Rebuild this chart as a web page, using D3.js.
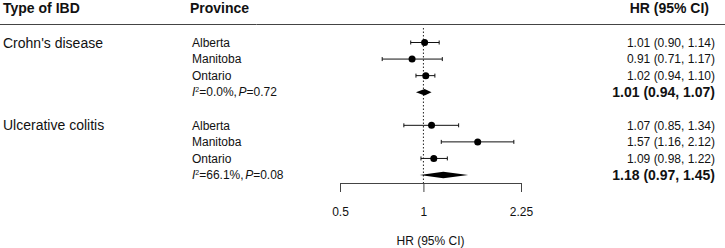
<!DOCTYPE html>
<html>
<head>
<meta charset="utf-8">
<script src="https://cdn.jsdelivr.net/npm/d3@7"></script>
<style>
  body { margin: 0; background: #fff; }
  text { font-family: "Liberation Sans", Arial, sans-serif; fill: #111; }
</style>
</head>
<body>
<script>
// Data
const ibdTypes = ["Crohn's disease", "Ulcerative colitis"];
const provinces = ["Alberta", "Manitoba", "Ontario"];

const cdHR = [1.01, 0.91, 1.02];
const cdLow = [0.90, 0.71, 0.94];
const cdHigh = [1.14, 1.17, 1.10];

const ucHR = [1.07, 1.57, 1.09];
const ucLow = [0.85, 1.16, 0.98];
const ucHigh = [1.34, 2.12, 1.22];

const pooledHR = [1.01, 1.18];
const pooledLow = [0.94, 0.97];
const pooledHigh = [1.07, 1.45];

const hetI2 = ["0.0%", "66.1%"];
const hetP = ["0.72", "0.08"];

const xTicks = [0.5, 1, 2.25];

let width = 725;
let height = 248;

// build rows: 4 rows per group, one blank row between groups
let studies = [];
let pooled = [];
[[cdHR, cdLow, cdHigh], [ucHR, ucLow, ucHigh]].forEach(([h, lo, hi], g) => {
  provinces.forEach((p, i) => {
    studies.push({ row: g * 5 + i, province: p, hr: h[i], lo: lo[i], hi: hi[i] });
  });
  pooled.push({ row: g * 5 + 3, hr: pooledHR[g], lo: pooledLow[g], hi: pooledHigh[g], i2: hetI2[g], p: hetP[g] });
});

const fmt = d3.format(".2f");

let x = d3.scaleLog()
    .domain([0.5, 2.25])
    .range([340, 521]);

let y = d3.scaleLinear()
    .domain([0, 8])
    .range([42.5, 175]);

let svg = d3.select("body").append("svg")
    .attr("width", width)
    .attr("height", height)
    .attr("viewBox", [0, 0, width, height]);

// header
let header = svg.append("g").attr("font-weight", "bold").attr("font-size", 14);
header.append("text").attr("x", 3).attr("y", 13).text("Type of IBD");
header.append("text").attr("x", 190).attr("y", 13).text("Province");
header.append("text").attr("x", 709).attr("y", 13).attr("text-anchor", "end").text("HR (95% CI)");

svg.append("line")
    .attr("x1", 0).attr("x2", width)
    .attr("y1", 24.5).attr("y2", 24.5)
    .attr("stroke", "#444");

// type labels
svg.append("g")
    .selectAll("text")
    .data(ibdTypes)
    .join("text")
    .attr("x", 3)
    .attr("y", (d, i) => y(i * 5) + 5)
    .attr("font-size", 14)
    .text(d => d);

// province labels
svg.append("g")
    .selectAll("text")
    .data(studies)
    .join("text")
    .attr("x", 192)
    .attr("y", d => y(d.row) + 4.3)
    .attr("font-size", 12)
    .text(d => d.province);

// heterogeneity labels
let het = svg.append("g")
    .selectAll("text")
    .data(pooled)
    .join("text")
    .attr("x", 192)
    .attr("y", d => y(d.row) + 4.3)
    .attr("font-size", 12);
het.append("tspan").attr("font-style", "italic").text("I");
het.append("tspan").attr("font-size", 7).attr("dy", -4.5).text("2");
het.append("tspan").attr("dy", 4.5).text(d => "=" + d.i2 + ",");
het.append("tspan").attr("font-style", "italic").attr("dx", 1.5).text("P");
het.append("tspan").text(d => "=" + d.p);

// reference line at HR = 1
svg.append("line")
    .attr("x1", x(1)).attr("x2", x(1))
    .attr("y1", 28).attr("y2", 183)
    .attr("stroke", "#222")
    .attr("stroke-dasharray", "1.5,2");

// confidence intervals
let ci = svg.append("g").attr("stroke", "#111").attr("stroke-width", 1);
ci.selectAll(".ci")
    .data(studies)
    .join("line")
    .attr("class", "ci")
    .attr("x1", d => x(d.lo)).attr("x2", d => x(d.hi))
    .attr("y1", d => y(d.row)).attr("y2", d => y(d.row));
ci.selectAll(".capL")
    .data(studies)
    .join("line")
    .attr("class", "capL")
    .attr("x1", d => x(d.lo)).attr("x2", d => x(d.lo))
    .attr("y1", d => y(d.row) - 2).attr("y2", d => y(d.row) + 2);
ci.selectAll(".capR")
    .data(studies)
    .join("line")
    .attr("class", "capR")
    .attr("x1", d => x(d.hi)).attr("x2", d => x(d.hi))
    .attr("y1", d => y(d.row) - 2).attr("y2", d => y(d.row) + 2);

svg.append("g")
    .selectAll("circle")
    .data(studies)
    .join("circle")
    .attr("cx", d => x(d.hr))
    .attr("cy", d => y(d.row))
    .attr("r", 3.5)
    .attr("fill", "#000");

// pooled diamonds
svg.append("g")
    .selectAll("polygon")
    .data(pooled)
    .join("polygon")
    .attr("points", d => [
      [x(d.lo), y(d.row)],
      [x(d.hr), y(d.row) - 3.3],
      [x(d.hi), y(d.row)],
      [x(d.hr), y(d.row) + 3.3]
    ].join(" "))
    .attr("fill", "#000");

// HR text column
svg.append("g")
    .selectAll("text")
    .data(studies)
    .join("text")
    .attr("x", 715)
    .attr("y", d => y(d.row) + 4.3)
    .attr("text-anchor", "end")
    .attr("font-size", 12)
    .text(d => `${fmt(d.hr)} (${fmt(d.lo)}, ${fmt(d.hi)})`);

svg.append("g")
    .selectAll("text")
    .data(pooled)
    .join("text")
    .attr("x", 715)
    .attr("y", d => y(d.row) + 5)
    .attr("text-anchor", "end")
    .attr("font-size", 14)
    .attr("font-weight", "bold")
    .text(d => `${fmt(d.hr)} (${fmt(d.lo)}, ${fmt(d.hi)})`);

// x axis
const xAxis = d3.axisBottom(x)
    .tickValues(xTicks)
    .tickFormat(d => d)
    .tickSize(9)
    .tickSizeOuter(0)
    .tickPadding(15);

svg.append("g")
    .attr("transform", "translate(0,183)")
    .call(xAxis)
    .call(g => g.select(".domain").attr("stroke", "#444"))
    .call(g => g.selectAll(".tick line").attr("stroke", "#444"))
    .call(g => g.selectAll(".tick text")
        .attr("font-size", 12)
        .attr("font-family", "Liberation Sans, Arial, sans-serif")
        .attr("fill", "#111"));

svg.append("text")
    .attr("x", (x.range()[0] + x.range()[1]) / 2)
    .attr("y", 245)
    .attr("text-anchor", "middle")
    .attr("font-size", 12)
    .text("HR (95% CI)");
</script>
</body>
</html>
